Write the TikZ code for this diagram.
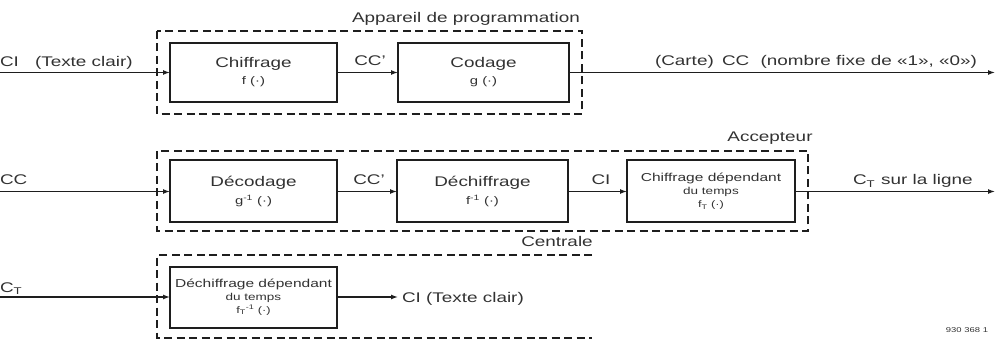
\documentclass[tikz,border=0pt]{standalone}
\usepackage{fontspec}
\setmainfont{Liberation Sans}[FakeStretch=1.35]
\usetikzlibrary{arrows.meta}
\definecolor{ink}{RGB}{30,30,30}
\definecolor{txt}{RGB}{50,50,50}
\newcommand{\fsz}[2]{\fontsize{#1}{#2}\selectfont}
\begin{document}
\begin{tikzpicture}[x=1pt,y=-1pt,
  every node/.style={text=txt, inner sep=0pt, outer sep=0pt},
  blk/.style={draw=ink, line width=2pt, rectangle, align=center},
  grp/.style={draw=ink, line width=1.8pt, dash pattern=on 8pt off 4.5pt},
  con/.style={draw=ink, line width=1.3pt, -{Latex[length=7pt,width=5pt]}},
  lbl/.style={font=\fsz{14}{16}}]
\useasboundingbox (0,0) rectangle (997,342);

% dashed groups
\draw[grp] (157,31) rectangle (582,114);
\draw[grp] (157,151) rectangle (808,231);
\draw[grp] (592,255) -- (157,255) -- (157,338) -- (592,338);

% boxes
\node[blk, minimum width=167pt, minimum height=59pt] (chif) at (253.5,72.5)
  {\fsz{14}{16}Chiffrage\\[5pt]\fsz{11}{12}f (·)};
\node[blk, minimum width=171pt, minimum height=59pt] (cod) at (483.5,72.5)
  {\fsz{14}{16}Codage\\[5pt]\fsz{11}{12}g (·)};
\node[blk, minimum width=167pt, minimum height=62pt] (dec) at (253.5,191.5)
  {\fsz{14}{16}Décodage\\[5pt]\fsz{11}{12}g\textsuperscript{-1} (·)};
\node[blk, minimum width=171pt, minimum height=62pt] (dech) at (482.5,191.5)
  {\fsz{14}{16}Déchiffrage\\[5pt]\fsz{11}{12}f\textsuperscript{-1} (·)};
\node[blk, minimum width=168pt, minimum height=62pt] (chifT) at (711,191.5)
  {\fsz{11.5}{13}Chiffrage dépendant\\[1pt]du temps\\[1pt]\fsz{9.5}{11}f\textsubscript{T} (·)};
\node[blk, minimum width=167pt, minimum height=61pt] (dechT) at (253.5,297)
  {\fsz{11.5}{13}Déchiffrage dépendant\\[1pt]du temps\\[1pt]\fsz{9.5}{11}f\textsubscript{T}\textsuperscript{-1} (·)};

% coordinates
\coordinate (in1) at (0,72.5);
\coordinate (out1) at (995,72.5);
\coordinate (in2) at (0,191.5);
\coordinate (out2) at (995,191.5);
\coordinate (in3) at (0,297);
\coordinate (out3) at (398,297);

% connectors
\draw[con] (in1) -- (chif);
\draw[con] (chif) -- (cod);
\draw[con] (cod) -- (out1);
\draw[con] (in2) -- (dec);
\draw[con] (dec) -- (dech);
\draw[con] (dech) -- (chifT);
\draw[con] (chifT) -- (out2);
\draw[con] (in3) -- (dechT);
\draw[con] (dechT) -- (out3);

% labels
\node[lbl, anchor=base] (appl) at (466,23) {Appareil de programmation};
\node[lbl, anchor=base] (accl) at (770,142) {Accepteur};
\node[lbl, anchor=base] (cenl) at (557,247) {Centrale};
\node[lbl, anchor=base west] (ci1) at (0,67) {CI};
\node[lbl, anchor=base west] (tc1) at (35,67) {(Texte clair)};
\node[lbl, anchor=base] (ccp1) at (370,66) {CC'};
\node[lbl, anchor=base west] (carte) at (655,66) {(Carte)};
\node[lbl, anchor=base west] (cc1) at (722,66) {CC};
\node[lbl, anchor=base east] (nomb) at (977,66) {(nombre fixe de «1», «0»)};
\node[lbl, anchor=base west] (cc2) at (0,185) {CC};
\node[lbl, anchor=base] (ccp2) at (369,185) {CC'};
\node[lbl, anchor=base] (ci2) at (601,185) {CI};
\node[lbl, anchor=base west] (ct2) at (853,185) {C\textsubscript{T}\hspace{6pt}sur la ligne};
\node[lbl, anchor=base west] (ct3) at (0,292) {C\textsubscript{T}};
\node[lbl, anchor=base west] (ci3) at (402,302) {CI (Texte clair)};
\node[anchor=base, font=\fsz{7}{8}] (ref) at (967,332) {930 368 1};
\end{tikzpicture}
\end{document}
